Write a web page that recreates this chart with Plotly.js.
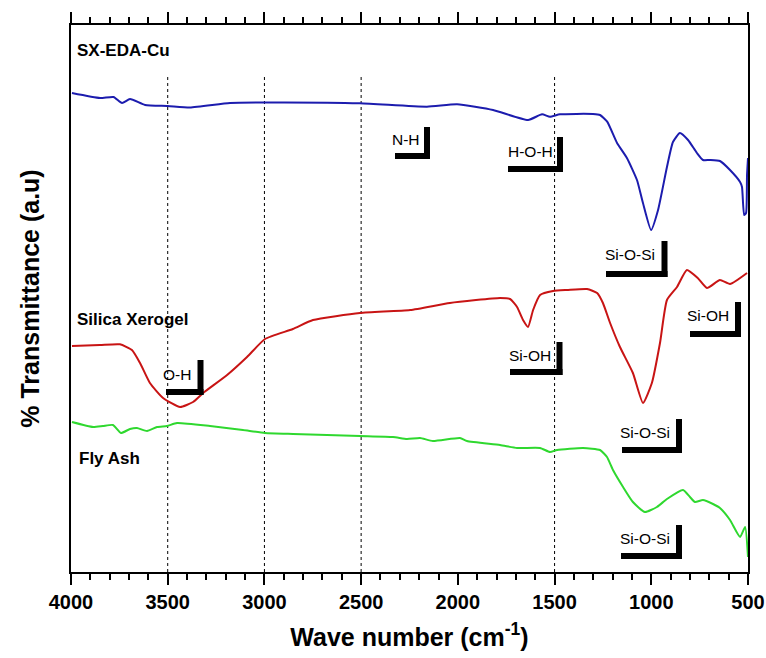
<!DOCTYPE html>
<html>
<head>
<meta charset="utf-8">
<script src="https://cdn.plot.ly/plotly-3.0.1.min.js"></script>
<style>html,body{margin:0;padding:0;background:#fff;}#chart{width:766px;height:658px;}</style>
</head>
<body>
<div id="chart"></div>
<script>
// ---- Data ----
const seriesNames = ['SX-EDA-Cu', 'Silica Xerogel', 'Fly Ash'];

const blueX = [3995,3850,3780,3736,3695,3617,3500,3385,3178,3000,2506,2160,2004,1818,1637,1565,1524,1472,1301,1265,1228,1177,1126,1074,1043,1001,965,919,888,852,810,764,733,697,645,593,541,531,520,510,505,500];
const blueY = [481,476,477,471,475,469,468,466.5,471,471.5,470.7,467.3,469.7,464,454,459.7,457.3,459.7,460,459,452.3,431,416,394,371,344,364,407,432,441,434,421,414,414,413,404,392,387,359,361,399,416];

const redX = [3995,3850,3747,3685,3643,3592,3524,3436,3369,3317,3193,3090,2997,2853,2749,2506,2247,2041,1782,1730,1694,1663,1637,1611,1575,1508,1436,1332,1280,1250,1213,1162,1095,1043,997,955,919,867,816,760,712,645,593,505];
const redY = [228,229,229.7,224,211,191,176,167,172,181,199,217,235,245,254,261,264,271,276,275,267,254,247,264,279,283,284,285,281,271,251,227,201,171,191,231,274,287,304,296,286,294,290,301];

const greenX = [3995,3886,3835,3783,3742,3695,3659,3607,3555,3504,3452,3281,3111,2997,2852,2677,2506,2335,2263,2196,2129,1989,1953,1782,1694,1575,1524,1487,1353,1265,1229,1198,1146,1095,1033,971,919,836,800,774,733,681,645,593,541,515,500];
const greenY = [152,147,148,149,141,145,146,143,147,148,151,148,144,141,140,139,138,137,135,136,133,136,133,129,126,126,122,124,126,124,117,104,87,72,62,67,75,84,77,72,74,70,66,54,37,47,17];

const xTickVals = [4000,3500,3000,2500,2000,1500,1000,500];
const xTickText = ['4000','3500','3000','2500','2000','1500','1000','500'];
const guideLines = [3500,3000,2500,1500];

// ---- Decorations (layout positions in pixels, converted to paper) ----
const L = 71, R = 748, T = 25, B = 572;
const P = px => (px - L) / (R - L);
const Q = py => (B - py) / (B - T);

const brackets = [
  {t:'N-H',     tx:406, ty:139, vx:427,   v0:127, v1:159, h0:395, hy:156},
  {t:'H-O-H',   tx:530, ty:151, vx:560,   v0:137, v1:172, h0:508, hy:169},
  {t:'Si-O-Si', tx:630, ty:255, vx:664.5, v0:241, v1:277, h0:606, hy:274},
  {t:'O-H',     tx:177, ty:374, vx:200.5, v0:360, v1:395, h0:166, hy:392},
  {t:'Si-OH',   tx:530, ty:355, vx:559.5, v0:342, v1:375, h0:510, hy:372},
  {t:'Si-OH',   tx:708, ty:315, vx:738,   v0:302, v1:337, h0:690, hy:334},
  {t:'Si-O-Si', tx:645, ty:433, vx:679,   v0:419, v1:453, h0:622, hy:450},
  {t:'Si-O-Si', tx:645, ty:538, vx:679,   v0:525, v1:559, h0:621, hy:556}
];
const nameLabels = [
  {t:seriesNames[0], x:75, y:50},
  {t:seriesNames[1], x:75, y:319},
  {t:seriesNames[2], x:77, y:458}
];

const FONT = 'Liberation Sans, Arial, Helvetica, sans-serif';

const traces = [
  {x: blueX, y: blueY, name: seriesNames[0], mode:'lines', line:{color:'#1c1cae', width:2, shape:'spline', smoothing:0.5}},
  {x: redX, y: redY, name: seriesNames[1], mode:'lines', line:{color:'#c81414', width:2, shape:'spline', smoothing:0.5}},
  {x: greenX, y: greenY, name: seriesNames[2], mode:'lines', line:{color:'#2fd82f', width:2, shape:'spline', smoothing:0.5}}
];

const shapes = [];
guideLines.forEach(v => shapes.push({type:'line', xref:'x', yref:'paper', x0:v, x1:v, y0:0, y1:Q(76),
  line:{color:'#000', width:1, dash:'3px,3px'}, layer:'below'}));
const th = 3;
brackets.forEach(b => {
  shapes.push({type:'rect', xref:'paper', yref:'paper', x0:P(b.vx-th), x1:P(b.vx+th), y0:Q(b.v1), y1:Q(b.v0), fillcolor:'#000', line:{width:0}});
  shapes.push({type:'rect', xref:'paper', yref:'paper', x0:P(b.h0), x1:P(b.vx+th), y0:Q(b.hy+th), y1:Q(b.hy-th), fillcolor:'#000', line:{width:0}});
});

const annotations = [];
brackets.forEach(b => annotations.push({xref:'paper', yref:'paper', x:P(b.tx), y:Q(b.ty), text:b.t, showarrow:false,
  xanchor:'center', yanchor:'middle', font:{family:FONT, size:15.5, color:'#000'}}));
nameLabels.forEach(n => annotations.push({xref:'paper', yref:'paper', x:P(n.x), y:Q(n.y), text:n.t, showarrow:false,
  xanchor:'left', yanchor:'middle', font:{family:FONT, size:17, color:'#000', weight:'bold'}}));

const layout = {
  width: 766, height: 658,
  margin: {l: L, r: 766 - R, t: T, b: 658 - B, pad: 0},
  paper_bgcolor: '#fff', plot_bgcolor: '#fff',
  showlegend: false,
  xaxis: {
    range: [4000, 500], autorange: false,
    tickvals: xTickVals, ticktext: xTickText,
    ticks: 'outside', ticklen: 11, tickwidth: 2, tickcolor: '#000',
    minor: {ticks: 'outside', dtick: 100, tick0: 0, ticklen: 6, tickwidth: 2, tickcolor: '#000', showgrid: false},
    showline: true, linewidth: 2, linecolor: '#000', mirror: 'ticks',
    showgrid: false, zeroline: false,
    tickfont: {family: FONT, size: 20, color: '#000', weight: 'bold'},
    title: {text: 'Wave number (cm<sup>-1</sup>)', font: {family: FONT, size: 25, color: '#000', weight: 'bold'}, standoff: 16}
  },
  yaxis: {
    range: [2, 549], autorange: false,
    showticklabels: false, ticks: '',
    showline: true, linewidth: 2, linecolor: '#000', mirror: true,
    showgrid: false, zeroline: false,
    title: {text: '% Transmittance (a.u)', font: {family: FONT, size: 25, color: '#000', weight: 'bold'}, standoff: 22}
  },
  shapes: shapes,
  annotations: annotations
};

Plotly.newPlot('chart', traces, layout, {displayModeBar: false, staticPlot: true});
</script>
</body>
</html>
